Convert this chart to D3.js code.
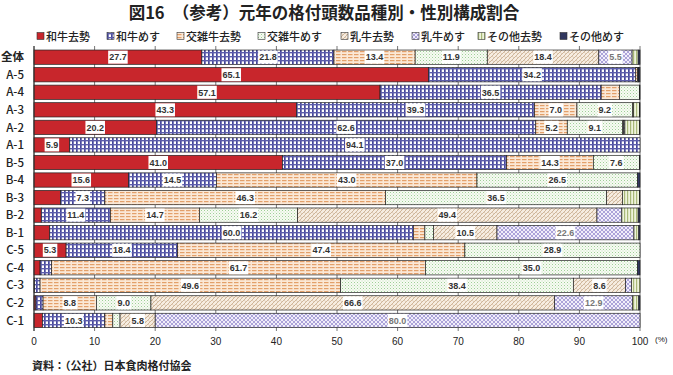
<!DOCTYPE html>
<html lang="ja">
<head>
<meta charset="UTF-8">
<script src="https://d3js.org/d3.v7.min.js"></script>
<style>
  body { margin: 0; background: #fff; font-family: "Noto Sans CJK JP", "Noto Sans", sans-serif; }
  svg { display: block; }
</style>
</head>
<body>
<svg id="chart" width="673" height="375"></svg>
<script>
// rows (top to bottom)
const grades = ["全体", "A-5", "A-4", "A-3", "A-2", "A-1", "B-5", "B-4", "B-3", "B-2", "B-1", "C-5", "C-4", "C-3", "C-2", "C-1"];
const seriesNames = ["和牛去勢", "和牛めす", "交雑牛去勢", "交雑牛めす", "乳牛去勢", "乳牛めす", "その他去勢", "その他めす"];

// shares (%) per row
const wagyuSteer   = [27.7, 65.1, 57.1, 43.3, 20.2, 5.9, 41.0, 15.6, 4.4, 1.2, 2.6, 5.3, 1.0, 0.1, 0.3, 1.4];
const wagyuCow     = [21.8, 34.2, 36.5, 39.3, 62.6, 94.1, 37.0, 14.5, 7.3, 11.4, 60.0, 18.4, 1.9, 0.9, 1.2, 10.3];
const crossSteer   = [13.4, 0.3, 3.0, 7.0, 5.2, 0, 14.3, 43.0, 46.3, 14.7, 1.9, 47.4, 61.7, 49.6, 8.8, 1.3];
const crossCow     = [11.9, 0.1, 3.3, 9.2, 9.1, 0, 7.6, 26.5, 36.5, 16.2, 1.4, 28.9, 35.0, 38.4, 9.0, 1.2];
const dairySteer   = [18.4, 0, 0, 0.1, 0.2, 0, 0, 0, 2.6, 49.4, 10.5, 0, 0, 8.6, 66.6, 5.8];
const dairyCow     = [5.5, 0, 0, 0, 0.2, 0, 0, 0, 0, 4.1, 22.6, 0, 0, 1.0, 12.9, 80.0];
const otherSteer   = [1.0, 0.1, 0, 1.0, 2.4, 0, 0, 0, 2.8, 2.7, 0.8, 0, 0, 1.4, 1.0, 0];
const otherCow     = [0.3, 0.2, 0.1, 0.1, 0.1, 0, 0.1, 0.4, 0.1, 0.3, 0.2, 0, 0.4, 0, 0.2, 0];

const xTicks = [0, 10, 20, 30, 40, 50, 60, 70, 80, 90, 100];

const seriesValues = [wagyuSteer, wagyuCow, crossSteer, crossCow, dairySteer, dairyCow, otherSteer, otherCow];
const table = grades.map((g, i) => {
  const row = { grade: g };
  seriesNames.forEach((s, j) => { row[s] = seriesValues[j][i]; });
  return row;
});

const svg = d3.select("#chart");
const margin = { top: 48.4, right: 33, bottom: 45.8, left: 34 };
const W = 673, H = 375;

// patterns
const defs = svg.append("defs");
function pat(id, w, h, draw) {
  const p = defs.append("pattern").attr("id", id).attr("patternUnits", "userSpaceOnUse")
    .attr("width", w).attr("height", h);
  draw(p);
}
pat("p1", 4, 4, p => {
  p.append("rect").attr("width", 4).attr("height", 4).attr("fill", "#fff");
  p.append("rect").attr("x", 0).attr("width", 1.7).attr("height", 4).attr("fill", "#45469a");
  p.append("rect").attr("y", 0).attr("width", 4).attr("height", 1.4).attr("fill", "#5c5dab");
});
pat("p2", 6, 3, p => {
  p.append("rect").attr("width", 6).attr("height", 3).attr("fill", "#fbe8d6");
  p.append("rect").attr("x", 0).attr("y", 0).attr("width", 4.5).attr("height", 1.2).attr("fill", "#e3a06a");
});
pat("p3", 3, 3, p => {
  p.append("rect").attr("width", 3).attr("height", 3).attr("fill", "#f7fbf3");
  p.append("rect").attr("x", 0).attr("y", 0).attr("width", 1).attr("height", 1).attr("fill", "#9fcf97");
  p.append("rect").attr("x", 1.5).attr("y", 1.5).attr("width", 1).attr("height", 1).attr("fill", "#c3e2bc");
});
pat("p4", 4, 4, p => {
  p.append("rect").attr("width", 4).attr("height", 4).attr("fill", "#f6ece0");
  p.append("path").attr("d", "M0,4 L4,0 M-1,1 L1,-1 M3,5 L5,3").attr("stroke", "#cbb092").attr("stroke-width", 0.9);
  p.append("path").attr("d", "M0,0 L2,2").attr("stroke", "#d9c3aa").attr("stroke-width", 0.7);
});
pat("p5", 4, 4, p => {
  p.append("rect").attr("width", 4).attr("height", 4).attr("fill", "#f1eefa");
  p.append("path").attr("d", "M0,4 L4,0 M-1,1 L1,-1 M3,5 L5,3 M0,0 L4,4").attr("stroke", "#9a8fd0").attr("stroke-width", 0.8);
});
pat("p6", 3, 3, p => {
  p.append("rect").attr("width", 3).attr("height", 3).attr("fill", "#eef3dc");
  p.append("rect").attr("x", 0).attr("width", 1.2).attr("height", 3).attr("fill", "#a9b979");
});

const fills = ["#c8262c", "url(#p1)", "url(#p2)", "url(#p3)", "url(#p4)", "url(#p5)", "url(#p6)", "#31375f"];
const color = d3.scaleOrdinal().domain(seriesNames).range(fills);

const x = d3.scaleLinear().domain([0, 100]).range([margin.left, W - margin.right]);
const y = d3.scaleBand().domain(grades).range([margin.top, H - margin.bottom]).paddingInner(0.185).paddingOuter(0.0925);

// title
svg.append("text").attr("x", 324).attr("y", 19).attr("text-anchor", "middle")
  .attr("font-size", 16.5).attr("font-weight", "bold").attr("fill", "#222")
  .text("図16　（参考）元年の格付頭数品種別・性別構成割合");

// legend
const legendX = [37, 107, 177, 258, 341, 412, 478, 560];
const lg = svg.append("g").selectAll("g").data(seriesNames).join("g")
  .attr("transform", (d, i) => `translate(${legendX[i]},37)`);
lg.append("rect").attr("x", 0).attr("y", -4.5).attr("width", 7).attr("height", 7)
  .attr("fill", d => color(d)).attr("stroke", "#333").attr("stroke-width", 0.6);
lg.append("text").attr("x", 9).attr("y", 0).attr("dy", "0.36em")
  .attr("font-size", 11).attr("font-weight", 500).attr("fill", "#222").text(d => d);

// gridlines
svg.append("g").selectAll("line").data(xTicks).join("line")
  .attr("x1", d => x(d)).attr("x2", d => x(d))
  .attr("y1", 46).attr("y2", 331)
  .attr("stroke", "#777").attr("stroke-width", 1);

// bars
const stack = d3.stack().keys(seriesNames)(table);
const layer = svg.append("g").selectAll("g").data(stack).join("g")
  .attr("fill", d => color(d.key));
layer.selectAll("rect").data(d => d.filter(p => p[1] - p[0] > 0)).join("rect")
  .attr("x", d => x(d[0]))
  .attr("y", d => y(d.data.grade))
  .attr("width", d => x(d[1]) - x(d[0]))
  .attr("height", y.bandwidth())
  .attr("stroke", "#222").attr("stroke-width", 0.7);

// value labels
const labels = [];
stack.forEach(s => s.forEach(p => {
  const v = p[1] - p[0];
  if (v >= 5) labels.push({ key: s.key, grade: p.data.grade, v, mid: (p[0] + p[1]) / 2 });
}));
const lab = svg.append("g").selectAll("g").data(labels).join("g")
  .attr("transform", d => `translate(${x(d.mid)},${y(d.grade) + y.bandwidth() / 2})`);
const labBox = lab.append("rect").attr("y", -6.5).attr("height", 13).attr("fill", "#fff");
const labText = lab.append("text").attr("text-anchor", "middle").attr("dy", "0.36em")
  .attr("font-size", 9).attr("font-weight", "bold").attr("font-family", "Liberation Sans, Arial, sans-serif")
  .attr("fill", d => d.key === "乳牛めす" ? "#777" : "#333")
  .text(d => d.v.toFixed(1));
labText.each(function () {
  const w = this.getComputedTextLength() + 2;
  d3.select(this.parentNode).select("rect").attr("x", -w / 2).attr("width", w);
});

// left axis line
svg.append("line").attr("x1", x(0)).attr("x2", x(0)).attr("y1", 46).attr("y2", 331)
  .attr("stroke", "#333").attr("stroke-width", 1);

// row labels
svg.append("g").selectAll("text").data(grades).join("text")
  .attr("x", 24).attr("y", d => y(d) + y.bandwidth() / 2).attr("dy", "0.36em")
  .attr("text-anchor", "end").attr("font-size", 11.5)
  .attr("font-weight", d => d === "全体" ? "bold" : 500).attr("fill", "#222")
  .text(d => d);

// x tick labels
svg.append("g").selectAll("text").data(xTicks).join("text")
  .attr("x", d => x(d)).attr("y", 341).attr("dy", "0.36em").attr("text-anchor", "middle")
  .attr("font-size", 10).attr("font-family", "Liberation Sans, Arial, sans-serif").attr("fill", "#222")
  .text(d => d);
svg.append("text").attr("x", 655).attr("y", 339).attr("dy", "0.36em")
  .attr("font-size", 8).attr("font-family", "Liberation Sans, Arial, sans-serif").attr("fill", "#222").text("(%)");

// source
svg.append("text").attr("x", 32).attr("y", 366).attr("dy", "0.36em")
  .attr("font-size", 11).attr("font-weight", "bold").attr("fill", "#222")
  .text("資料：（公社）日本食肉格付協会");
</script>
</body>
</html>
